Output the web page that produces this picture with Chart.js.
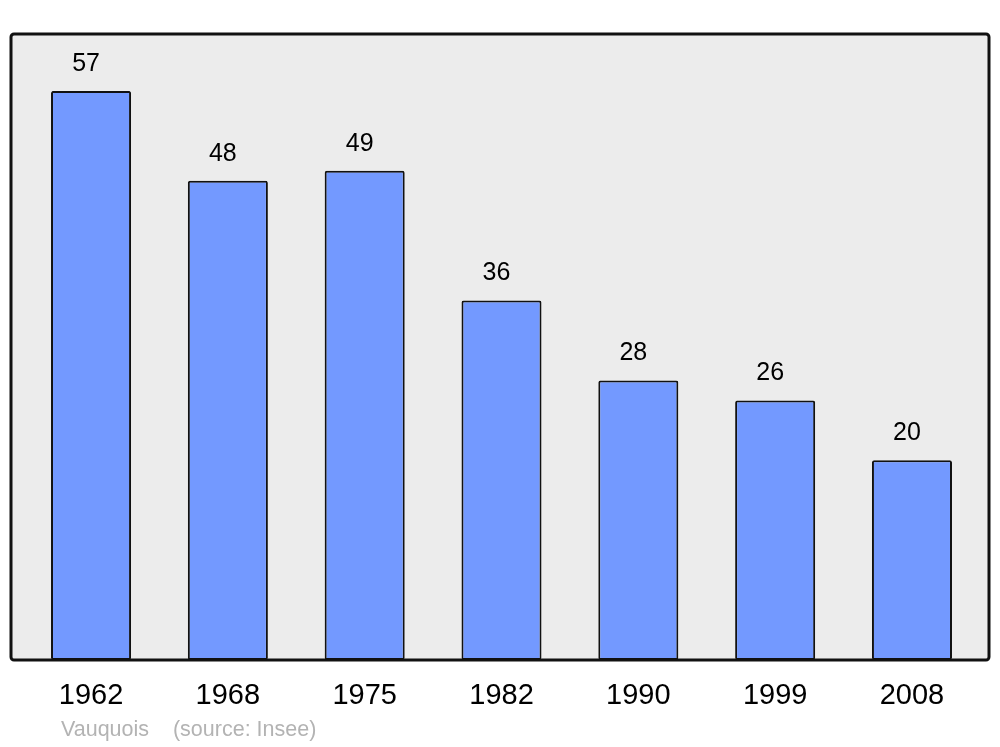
<!DOCTYPE html>
<html>
<head>
<meta charset="utf-8">
<script src="https://cdn.jsdelivr.net/npm/chart.js@4/dist/chart.umd.min.js"></script>
<style>
html,body{margin:0;padding:0;background:#fff;}
#wrap{width:1000px;height:747px;}
</style>
</head>
<body>
<div id="wrap"><canvas id="c" width="1000" height="747"></canvas></div>
<script>
const years = ['1962','1968','1975','1982','1990','1999','2008'];
const population = [57, 48, 49, 36, 28, 26, 20];
const sourceText = 'Vauquois    (source: Insee)';

const points = population.map((v, i) => ({x: i, y: v}));

const framePlugin = {
  id: 'frame',
  beforeDatasetsDraw(chart) {
    const {ctx, chartArea: a} = chart;
    ctx.save();
    ctx.beginPath();
    ctx.roundRect(a.left, a.top, a.right - a.left, a.bottom - a.top, 3);
    ctx.fillStyle = '#ececec';
    ctx.fill();
    ctx.restore();
  },
  afterDatasetsDraw(chart) {
    const {ctx, chartArea: a} = chart;
    ctx.save();
    ctx.beginPath();
    ctx.roundRect(a.left, a.top, a.right - a.left, a.bottom - a.top, 3);
    ctx.lineWidth = 3;
    ctx.strokeStyle = '#111';
    ctx.stroke();
    // value labels
    const meta = chart.getDatasetMeta(0);
    ctx.fillStyle = '#000';
    ctx.font = '25px "Liberation Sans", Arial, sans-serif';
    ctx.textAlign = 'center';
    ctx.textBaseline = 'middle';
    meta.data.forEach((bar, i) => {
      ctx.fillText(String(population[i]), bar.x - 5, bar.y - 27);
    });
    // source
    ctx.fillStyle = '#b3b3b3';
    ctx.font = '21.5px "Liberation Sans", Arial, sans-serif';
    ctx.textAlign = 'left';
    ctx.fillText(sourceText, a.left + 50, 730);
    ctx.restore();
  }
};

new Chart(document.getElementById('c'), {
  type: 'bar',
  data: {
    datasets: [{
      data: points,
      backgroundColor: '#7399ff',
      borderColor: '#111',
      borderWidth: 2,
      borderRadius: 2,
      borderSkipped: false,
      categoryPercentage: 1,
      barPercentage: 0.585
    }]
  },
  options: {
    responsive: false,
    animation: false,
    layout: {padding: {left: 11, right: 11, top: 34, bottom: 0}},
    plugins: {legend: {display: false}, tooltip: {enabled: false}},
    scales: {
      x: {
        type: 'linear',
        offset: false,
        min: -0.585,
        max: 6.563,
        grid: {display: false, drawTicks: false, offset: false},
        border: {display: false},
        afterBuildTicks(scale) {
          scale.ticks = years.map((_, i) => ({value: i}));
        },
        afterFit(scale) { scale.height = 87; },
        ticks: {
          autoSkip: false,
          maxRotation: 0,
          padding: 19,
          color: '#000',
          font: {family: '"Liberation Sans", Arial, sans-serif', size: 29},
          callback: (v) => years[v] !== undefined ? years[v] : ''
        }
      },
      y: {
        display: false,
        min: 0,
        max: 62.7
      }
    }
  },
  plugins: [framePlugin]
});
</script>
</body>
</html>
